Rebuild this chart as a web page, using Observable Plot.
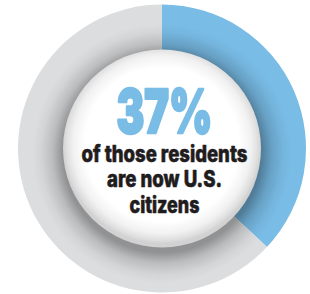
<!DOCTYPE html>
<html><head><meta charset="utf-8">
<script src="https://cdn.jsdelivr.net/npm/d3@7"></script>
<script src="https://cdn.jsdelivr.net/npm/@observablehq/plot@0.6"></script>
<style>html,body{margin:0;padding:0;background:#fff;overflow:hidden}</style>
</head><body><div id="chart"></div>
<script>
// ---- data ----
const categories = ["U.S. citizens", "Not citizens"];
const shares = [37, 63];
const colors = ["#79bce6", "#dcdddf"];
const headline = ["37%"];
const captionLines = ["of those residents", "are now U.S.", "citizens"];

const slices = categories.map((c, i) => ({category: c, share: shares[i], color: colors[i]}));
const pieData = d3.pie().sort(null).value(d => d.share)(slices);

const R = 144, r0 = 99;
const face = "Inter, 'DejaVu Sans', sans-serif";

function donut(index, scales) {
  const s = scales && scales.x ? scales : index;
  const cx = s.x(0), cy = s.y(0);
  const k = Math.abs(s.x(1) - s.x(0));
  const g = d3.create("svg:g");
  const defs = g.append("defs");
  const sh = defs.append("radialGradient").attr("id", "ringShadow")
    .attr("gradientUnits", "userSpaceOnUse").attr("cx", cx).attr("cy", cy + 5).attr("r", R * k);
  [[0, 0.4], [r0 / R, 0.34], [0.76, 0.15], [0.84, 0.04], [0.9, 0]].forEach(([o, a]) =>
    sh.append("stop").attr("offset", o).attr("stop-color", "#000").attr("stop-opacity", a));
  const inner = defs.append("radialGradient").attr("id", "innerFill")
    .attr("gradientUnits", "userSpaceOnUse").attr("cx", cx).attr("cy", cy - 4).attr("r", r0 * k);
  [[0, "#ffffff"], [0.78, "#ffffff"], [0.9, "#f1f1f1"], [0.97, "#dedede"], [1, "#d2d2d2"]].forEach(([o, c]) =>
    inner.append("stop").attr("offset", o).attr("stop-color", c));

  const arc = d3.arc().innerRadius((r0 - 3) * k).outerRadius(R * k);
  g.append("g").attr("transform", `translate(${cx},${cy})`)
    .selectAll("path").data(pieData).join("path")
    .attr("d", arc).attr("fill", d => d.data.color);
  g.append("circle").attr("cx", cx).attr("cy", cy).attr("r", R * k).attr("fill", "url(#ringShadow)");
  g.append("circle").attr("cx", cx).attr("cy", cy).attr("r", r0 * k).attr("fill", "url(#innerFill)");
  return g.node();
}

const plot = Plot.plot({
  width: 310,
  height: 294,
  margin: 0,
  x: {domain: [-162, 148], axis: null},
  y: {domain: [-145.5, 148.5], axis: null},
  marks: [
    donut,
    Plot.text(headline, {
      x: () => 2, y: () => 16, text: d => d,
      lineAnchor: "bottom", fontSize: 61, fontWeight: 900,
      fontFamily: face, fill: colors[0], stroke: colors[0], strokeWidth: 2.6
    }),
    Plot.text(captionLines, {
      x: () => 2, y: (d, i) => -12.5 - i * 25.5, text: d => d,
      lineAnchor: "bottom", fontSize: 22.5, fontWeight: 800,
      fontFamily: face, fill: "#1f1c1d", stroke: "#1f1c1d", strokeWidth: 0.6
    })
  ]
});
document.getElementById("chart").appendChild(plot);

// condense the type to the reference's compressed face
const groups = plot.querySelectorAll("g[aria-label='text']");
const fitWidths = [[96], [166, 115, 70]];
groups.forEach((grp, gi) => {
  grp.querySelectorAll("text").forEach((t, ti) => {
    const w = fitWidths[gi] && fitWidths[gi][ti];
    if (w) { t.setAttribute("textLength", w); t.setAttribute("lengthAdjust", "spacingAndGlyphs"); }
  });
});
</script>
</body></html>
